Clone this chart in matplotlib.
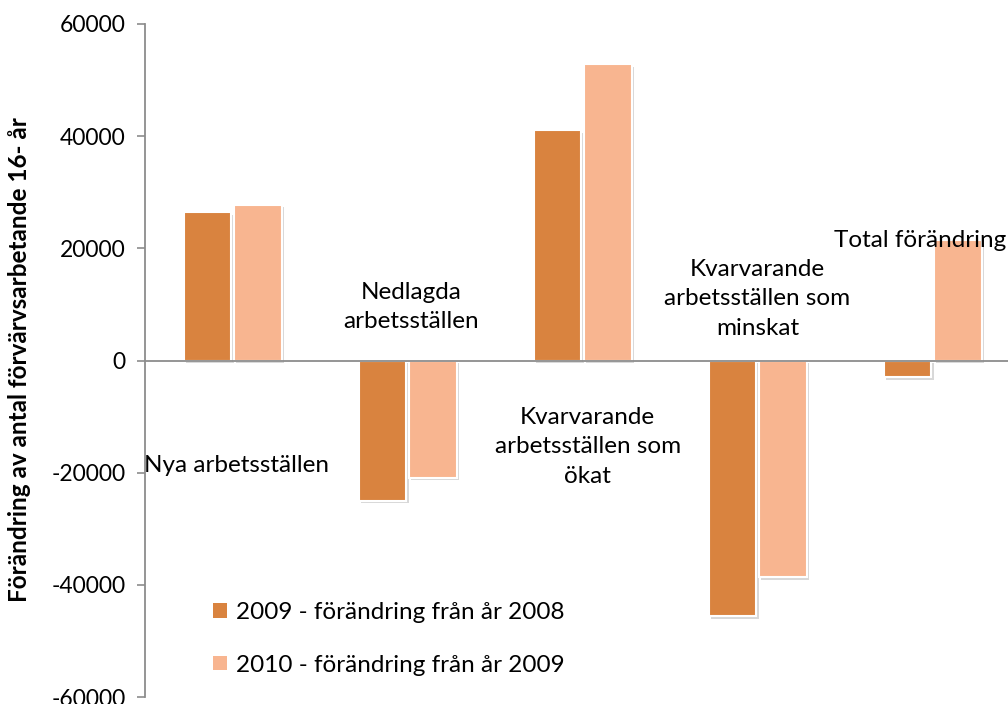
import matplotlib
matplotlib.use("Agg")
import matplotlib.pyplot as plt
import matplotlib.patheffects as pe
from matplotlib.patches import Patch
import numpy as np

plt.rcParams['font.family'] = ['Lato', 'DejaVu Sans']

# data
categories = ["Nya arbetsställen",
              "Nedlagda\narbetsställen",
              "Kvarvarande\narbetsställen som\nökat",
              "Kvarvarande\narbetsställen som\nminskat",
              "Total förändring"]
change_2009 = [26500, -25000, 41100, -45600, -2900]
change_2010 = [27800, -20900, 52900, -38600, 21400]
series_names = ["2009 - förändring från år 2008",
                "2010 - förändring från år 2009"]
yticks = [-60000, -40000, -20000, 0, 20000, 40000, 60000]

# where each category label sits (x in category index, y in data units)
label_x = [0.02, 1.02, 2.03, 3.0, 3.93]
label_y = [-18800, 9500, -15400, 11000, 21400]

col_2009 = "#D9833F"
col_2010 = "#F8B590"

fig = plt.figure(figsize=(10.08, 7.04), dpi=100)
ax = fig.add_axes([145 / 1008, 1 - 697 / 704, 875 / 1008, 673 / 704])

x = np.arange(len(categories))
w = 0.274
off = 0.143
shadow = [pe.SimplePatchShadow(offset=(2, -2), alpha=0.3, shadow_rgbFace="gray"), pe.Normal()]
b1 = ax.bar(x - off, change_2009, w, color=col_2009, edgecolor="white", linewidth=1.5, zorder=3)
b2 = ax.bar(x + off, change_2010, w, color=col_2010, edgecolor="white", linewidth=1.5, zorder=3)
for b in list(b1) + list(b2):
    b.set_path_effects(shadow)

ax.axhline(0, color="#8c8c8c", linewidth=1.3, zorder=4)

ax.set_xlim(-0.5, 4.5)
ax.set_ylim(-60000, 60000)
ax.set_yticks(yticks)
ax.set_yticklabels([str(t) for t in yticks])
ax.tick_params(axis="y", direction="out", length=6, width=1.2, color="#8c8c8c",
               labelsize=16.5, pad=8)
ax.set_xticks([])
for s in ["top", "right", "bottom"]:
    ax.spines[s].set_visible(False)
ax.spines["left"].set_color("#8c8c8c")
ax.spines["left"].set_linewidth(1.3)

for lab, lx, ly in zip(categories, label_x, label_y):
    ax.text(lx, ly, lab, ha="center", va="center", fontsize=17.5,
            linespacing=1.5, zorder=5, clip_on=False)

fig.text(20 / 1008, 1 - 360 / 704, "Förändring av antal förvärvsarbetande 16- år",
         rotation=90, ha="center", va="center", fontsize=17.5, fontweight="bold")

handles = [Patch(facecolor=col_2009), Patch(facecolor=col_2010)]
fig.legend(handles, series_names, loc="upper left",
           bbox_to_anchor=(201 / 1008, 1 - 590 / 704), frameon=False,
           fontsize=17.5, handlelength=0.55, handleheight=0.55, handletextpad=0.4,
           labelspacing=1.3, borderpad=0)

fig.savefig("out.png", dpi=100)
